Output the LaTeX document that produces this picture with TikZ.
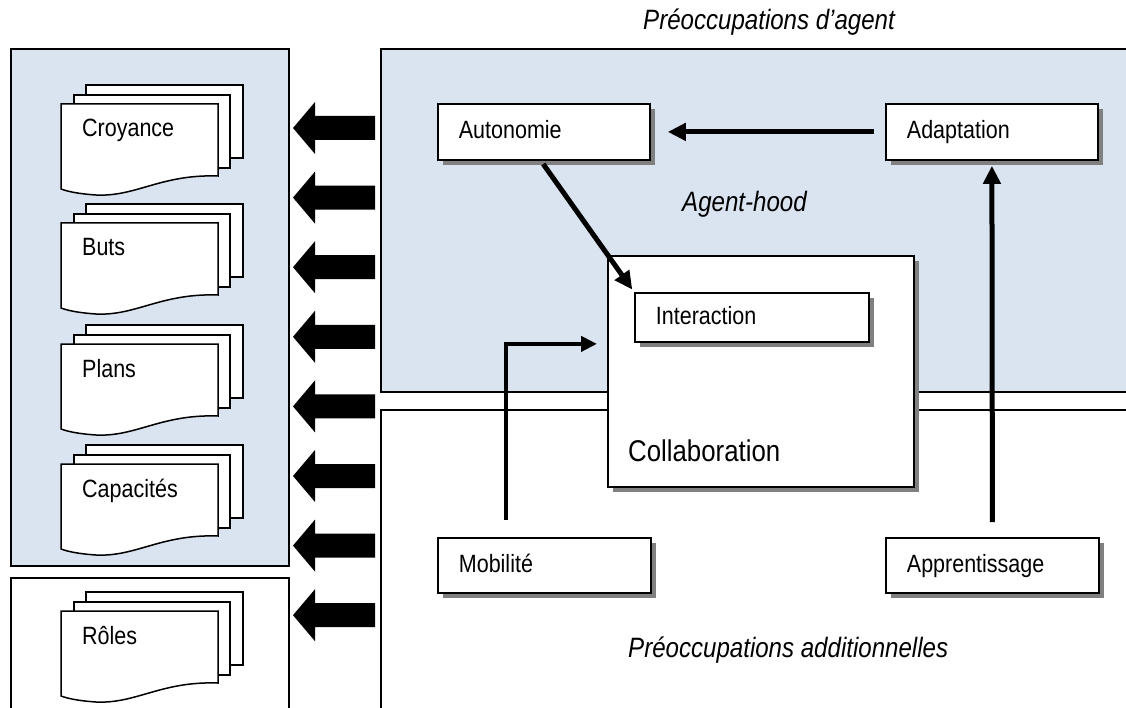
\documentclass[tikz,border=0pt]{standalone}
\usepackage{fontspec}
\setmainfont{Liberation Sans}[FakeStretch=0.86]
\usetikzlibrary{arrows.meta,shadows}
\definecolor{zone}{RGB}{218,227,240}
\definecolor{shade}{RGB}{128,128,128}

\tikzset{
  zoneline/.style={draw=black, line width=1.5pt},
  sheet/.style={draw=black, fill=white, line width=1.5pt},
  lbl/.style={font=\fontsize{25}{30}\selectfont, inner sep=0pt, anchor=base west},
  note/.style={font=\fontsize{28}{34}\selectfont\itshape, inner sep=0pt, anchor=base west},
  shadowed/.style={drop shadow={shadow xshift=5.5pt, shadow yshift=-5.5pt, fill=shade, opacity=1}},
  concern/.style={rectangle, draw=black, fill=white, line width=1.8pt, shadowed,
    anchor=north west, inner xsep=21pt, inner ysep=0pt, align=left,
    text height=18pt, text depth=4pt, font=\fontsize{25}{30}\selectfont},
  thickarrow/.style={draw=black, line width=5pt, -{Triangle[length=18pt,width=17pt]}},
  thinarrow/.style={draw=black, line width=4pt, -{Triangle[length=16pt,width=15pt]}},
  docs/.pic={
    \path[sheet] (25,-19) rectangle (182,54);
    \path[sheet] (13,-9) rectangle (169,64);
    \path[sheet] (0,0) -- (157,0) -- (157,72)
      .. controls (100,70) and (75,93) .. (35,91)
      .. controls (20,90) and (8,88) .. (0,85) -- cycle;
    \node[lbl] (-label) at (21,33) {#1};
  },
  blockarrow/.pic={
    \fill[black] (0,0) -- (22,-26) -- (22,-12) -- (82,-12) -- (82,12)
      -- (22,12) -- (22,26) -- cycle;
  }
}

\begin{document}
\begin{tikzpicture}[x=1pt,y=-1pt]
  \useasboundingbox (0,0) rectangle (1126,708);

  % left column: agent knowledge and roles
  \path[zoneline, fill=zone] (11,49) rectangle (289,566);
  \draw[zoneline] (11,716) -- (11,578) -- (289,578) -- (289,716);

  \pic (croy) at (61,104) {docs=Croyance};
  \pic (buts) at (61,223) {docs=Buts};
  \pic (plans) at (61,344) {docs=Plans};
  \pic (capa) at (61,464) {docs=Capacités};
  \pic (roles) at (61,611) {docs=Rôles};

  % block arrows towards the left column
  \foreach \i in {0,...,7}
    \pic at (293,{128+69.6*\i}) {blockarrow};

  % right zones: agent concerns and additional concerns
  \path[zoneline, fill=zone] (1132,49) -- (381,49) -- (381,392) -- (1132,392);
  \draw[zoneline] (1132,49) -- (381,49) -- (381,392) -- (1132,392);
  \draw[zoneline] (1132,410) -- (381,410) -- (381,716);

  \node[note] (titleA) at (643,30) {Préoccupations d’agent};
  \node[note] (hood) at (682,212) {Agent-hood};
  \node[note] (titleB) at (628,657) {Préoccupations additionnelles};

  % collaboration frame with interaction inside
  \node[rectangle, draw=black, fill=white, line width=1.8pt, shadowed,
        anchor=north west, inner sep=0pt, minimum width=306pt,
        minimum height=231pt] (collab) at (607,255) {};
  \node[lbl, font=\fontsize{30}{36}\selectfont] (collabtxt) at (628,461) {Collaboration};

  \node[concern, text width=192pt, minimum height=49pt] (inter) at (634,292) {Interaction};
  \node[concern, text width=170pt, minimum height=56pt] (auto) at (437,103) {Autonomie};
  \node[concern, text width=170pt, minimum height=56pt] (adapt) at (885,103) {Adaptation};
  \node[concern, text width=171pt, minimum height=55pt] (mob) at (437,537) {Mobilité};
  \node[concern, text width=171pt, minimum height=55pt] (appr) at (885,537) {Apprentissage};

  % connectors
  \draw[thickarrow, shorten <=11pt, shorten >=17pt] (adapt.west) -- (auto.east);
  \draw[thickarrow, shorten <=15pt, shorten >=5pt] (appr.north) -- (adapt.south);
  \draw[thinarrow, shorten <=17pt, shorten >=10pt]
    ([xshift=-38pt]mob.north) |- ([yshift=27.5pt]collab.west);
  \draw[thickarrow, shorten <=4pt, shorten >=3pt] ([xshift=-3pt]auto.south) -- (inter.north west);
\end{tikzpicture}
\end{document}
